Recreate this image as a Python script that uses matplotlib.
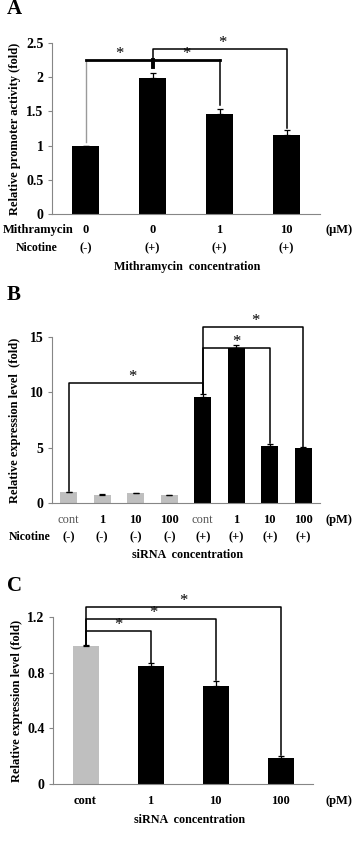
import matplotlib
matplotlib.use('Agg')
import matplotlib.pyplot as plt
import matplotlib.transforms as mtrans

plt.rcParams['font.family'] = ['Liberation Serif', 'DejaVu Serif']
plt.rcParams['font.weight'] = 'bold'

W, H = 362, 852
GRAY = '#bfbfbf'
SPINE = '#868686'

# panel A
a_mith = ['0', '0', '1', '10']
a_nic = ['(-)', '(+)', '(+)', '(+)']
a_vals = [1.0, 1.99, 1.46, 1.16]
a_err = [0.0, 0.07, 0.08, 0.07]
a_colors = ['black', 'black', 'black', 'black']
# (from, to, top, left bottom, right bottom, star x)
a_brackets = [(0, 2, 2.25, 1.05, 1.6, 0.5), (1, 3, 2.41, 2.25, 1.25, 2.05)]

# panel B
b_conc = ['cont', '1', '10', '100', 'cont', '1', '10', '100']
b_nic = ['(-)', '(-)', '(-)', '(-)', '(+)', '(+)', '(+)', '(+)']
b_vals = [0.95, 0.72, 0.87, 0.68, 9.62, 14.0, 5.12, 4.97]
b_err = [0.05, 0.05, 0.05, 0.05, 0.2, 0.25, 0.2, 0.08]
b_colors = [GRAY] * 4 + ['black'] * 4
b_brackets = [(0, 4, 10.85, 1.05, 9.95, 1.9), (4, 6, 14.0, 9.95, 5.4, 5.0),
              (4, 7, 15.9, 9.95, 5.1, 5.56)]

# panel C
c_conc = ['cont', '1', '10', '100']
c_vals = [0.995, 0.85, 0.705, 0.19]
c_err = [0.005, 0.02, 0.035, 0.01]
c_colors = [GRAY, 'black', 'black', 'black']
c_brackets = [(0, 1, 1.1, 1.0, 0.87, 0.5), (0, 2, 1.185, 1.0, 0.75, 1.04),
              (0, 3, 1.27, 1.0, 0.21, 1.5)]


def rect(l, t, r, b):
    return [l / W, 1 - b / H, (r - l) / W, (b - t) / H]


def star(ax, x, y):
    ax.text(x, y, '*', ha='center', va='center', fontsize=12, fontweight='normal',
            clip_on=False)


def draw(ax, vals, err, colors, width, ymax, yticks, ylabel, brackets):
    x = list(range(len(vals)))
    ax.bar(x, vals, width=width, color=colors, zorder=2)
    ax.errorbar(x, vals, yerr=[[0] * len(err), err], fmt='none', ecolor='black',
                elinewidth=0.9, capsize=2.5, capthick=0.9, zorder=3)
    ax.set_xlim(-0.5, len(vals) - 0.5)
    ax.set_ylim(0, ymax)
    ax.set_yticks(yticks)
    ax.set_yticklabels([('%g' % t) for t in yticks], fontsize=10, fontweight='bold')
    ax.set_xticks([])
    ax.spines['top'].set_visible(False)
    ax.spines['right'].set_visible(False)
    ax.spines['left'].set_color(SPINE)
    ax.spines['bottom'].set_color(SPINE)
    ax.tick_params(axis='y', length=3, color=SPINE, pad=3)
    ax.set_ylabel(ylabel, fontsize=9, fontweight='bold')
    ax.yaxis.set_label_coords(-0.115, 0.5)
    for (i, j, top, lb, rb, sx) in brackets:
        ax.plot([i, i, j, j], [lb, top, top, rb], color='black', lw=1.1,
                clip_on=False, zorder=4)
        star(ax, sx, top + ymax * 0.035)
    return ax


fig = plt.figure(figsize=(W / 100, H / 100), dpi=100)

# ---- A ----
axA = fig.add_axes(rect(52, 43, 320, 214))
draw(axA, a_vals, a_err, a_colors, 0.4, 2.5, [0, 0.5, 1, 1.5, 2, 2.5],
     'Relative promoter activity (fold)', [])
i, j, top, lb, rb, sx = a_brackets[0]
axA.plot([i, i], [lb, top], color='#9a9a9a', lw=1.0, clip_on=False)
axA.plot([i, j], [top, top], color='black', lw=2.0, clip_on=False)
axA.plot([j, j], [top, rb], color='black', lw=1.1, clip_on=False)
axA.plot([1, 1], [2.15, top], color='black', lw=2.8, clip_on=False)
star(axA, sx, top + 0.09)
star(axA, 1.5, top + 0.09)
i, j, top, lb, rb, sx = a_brackets[1]
axA.plot([i, i, j, j], [lb, top, top, rb], color='black', lw=1.1, clip_on=False)
star(axA, sx, top + 0.09)
tr = mtrans.blended_transform_factory(axA.transData, axA.transAxes)
for k in range(4):
    axA.text(k, -0.094, a_mith[k], transform=tr, ha='center', va='center', fontsize=9)
    axA.text(k, -0.199, a_nic[k], transform=tr, ha='center', va='center', fontsize=9)
fig.text(74 / W, 1 - 230 / H, 'Mithramycin', ha='right', va='center', fontsize=9)
fig.text(37 / W, 1 - 248 / H, 'Nicotine', ha='center', va='center', fontsize=8.5)
fig.text(339 / W, 1 - 230 / H, '(μM)', ha='center', va='center', fontsize=9)
fig.text(187 / W, 1 - 267 / H, 'Mithramycin  concentration', ha='center', va='center', fontsize=8.7)
fig.text(7 / W, 1 - 9 / H, 'A', ha='left', va='center', fontsize=15, fontweight='bold')

# ---- B ----
axB = fig.add_axes(rect(52, 337, 320, 503))
draw(axB, b_vals, b_err, b_colors, 0.5, 15, [0, 5, 10, 15],
     'Relative expression level  (fold)', b_brackets)
tr = mtrans.blended_transform_factory(axB.transData, axB.transAxes)
for k in range(8):
    if b_conc[k] == 'cont':
        axB.text(k, -0.102, b_conc[k], transform=tr, ha='center', va='center',
                 fontsize=9, fontweight='normal', color='#555555')
    else:
        axB.text(k, -0.102, b_conc[k], transform=tr, ha='center', va='center', fontsize=9)
    axB.text(k, -0.205, b_nic[k], transform=tr, ha='center', va='center', fontsize=9)
fig.text(30 / W, 1 - 537 / H, 'Nicotine', ha='center', va='center', fontsize=8.5)
fig.text(339 / W, 1 - 520 / H, '(pM)', ha='center', va='center', fontsize=9)
fig.text(188 / W, 1 - 555 / H, 'siRNA  concentration', ha='center', va='center', fontsize=8.7)
fig.text(7 / W, 1 - 295 / H, 'B', ha='left', va='center', fontsize=15, fontweight='bold')

# ---- C ----
axC = fig.add_axes(rect(53, 617, 313, 784))
draw(axC, c_vals, c_err, c_colors, 0.4, 1.2, [0, 0.4, 0.8, 1.2],
     'Relative expression level (fold)', c_brackets)
tr = mtrans.blended_transform_factory(axC.transData, axC.transAxes)
for k in range(4):
    axC.text(k, -0.102, c_conc[k], transform=tr, ha='center', va='center', fontsize=9)
fig.text(339 / W, 1 - 801 / H, '(pM)', ha='center', va='center', fontsize=9)
fig.text(190 / W, 1 - 820 / H, 'siRNA  concentration', ha='center', va='center', fontsize=8.7)
fig.text(7 / W, 1 - 586 / H, 'C', ha='left', va='center', fontsize=15, fontweight='bold')

fig.savefig('out.png', dpi=100)
